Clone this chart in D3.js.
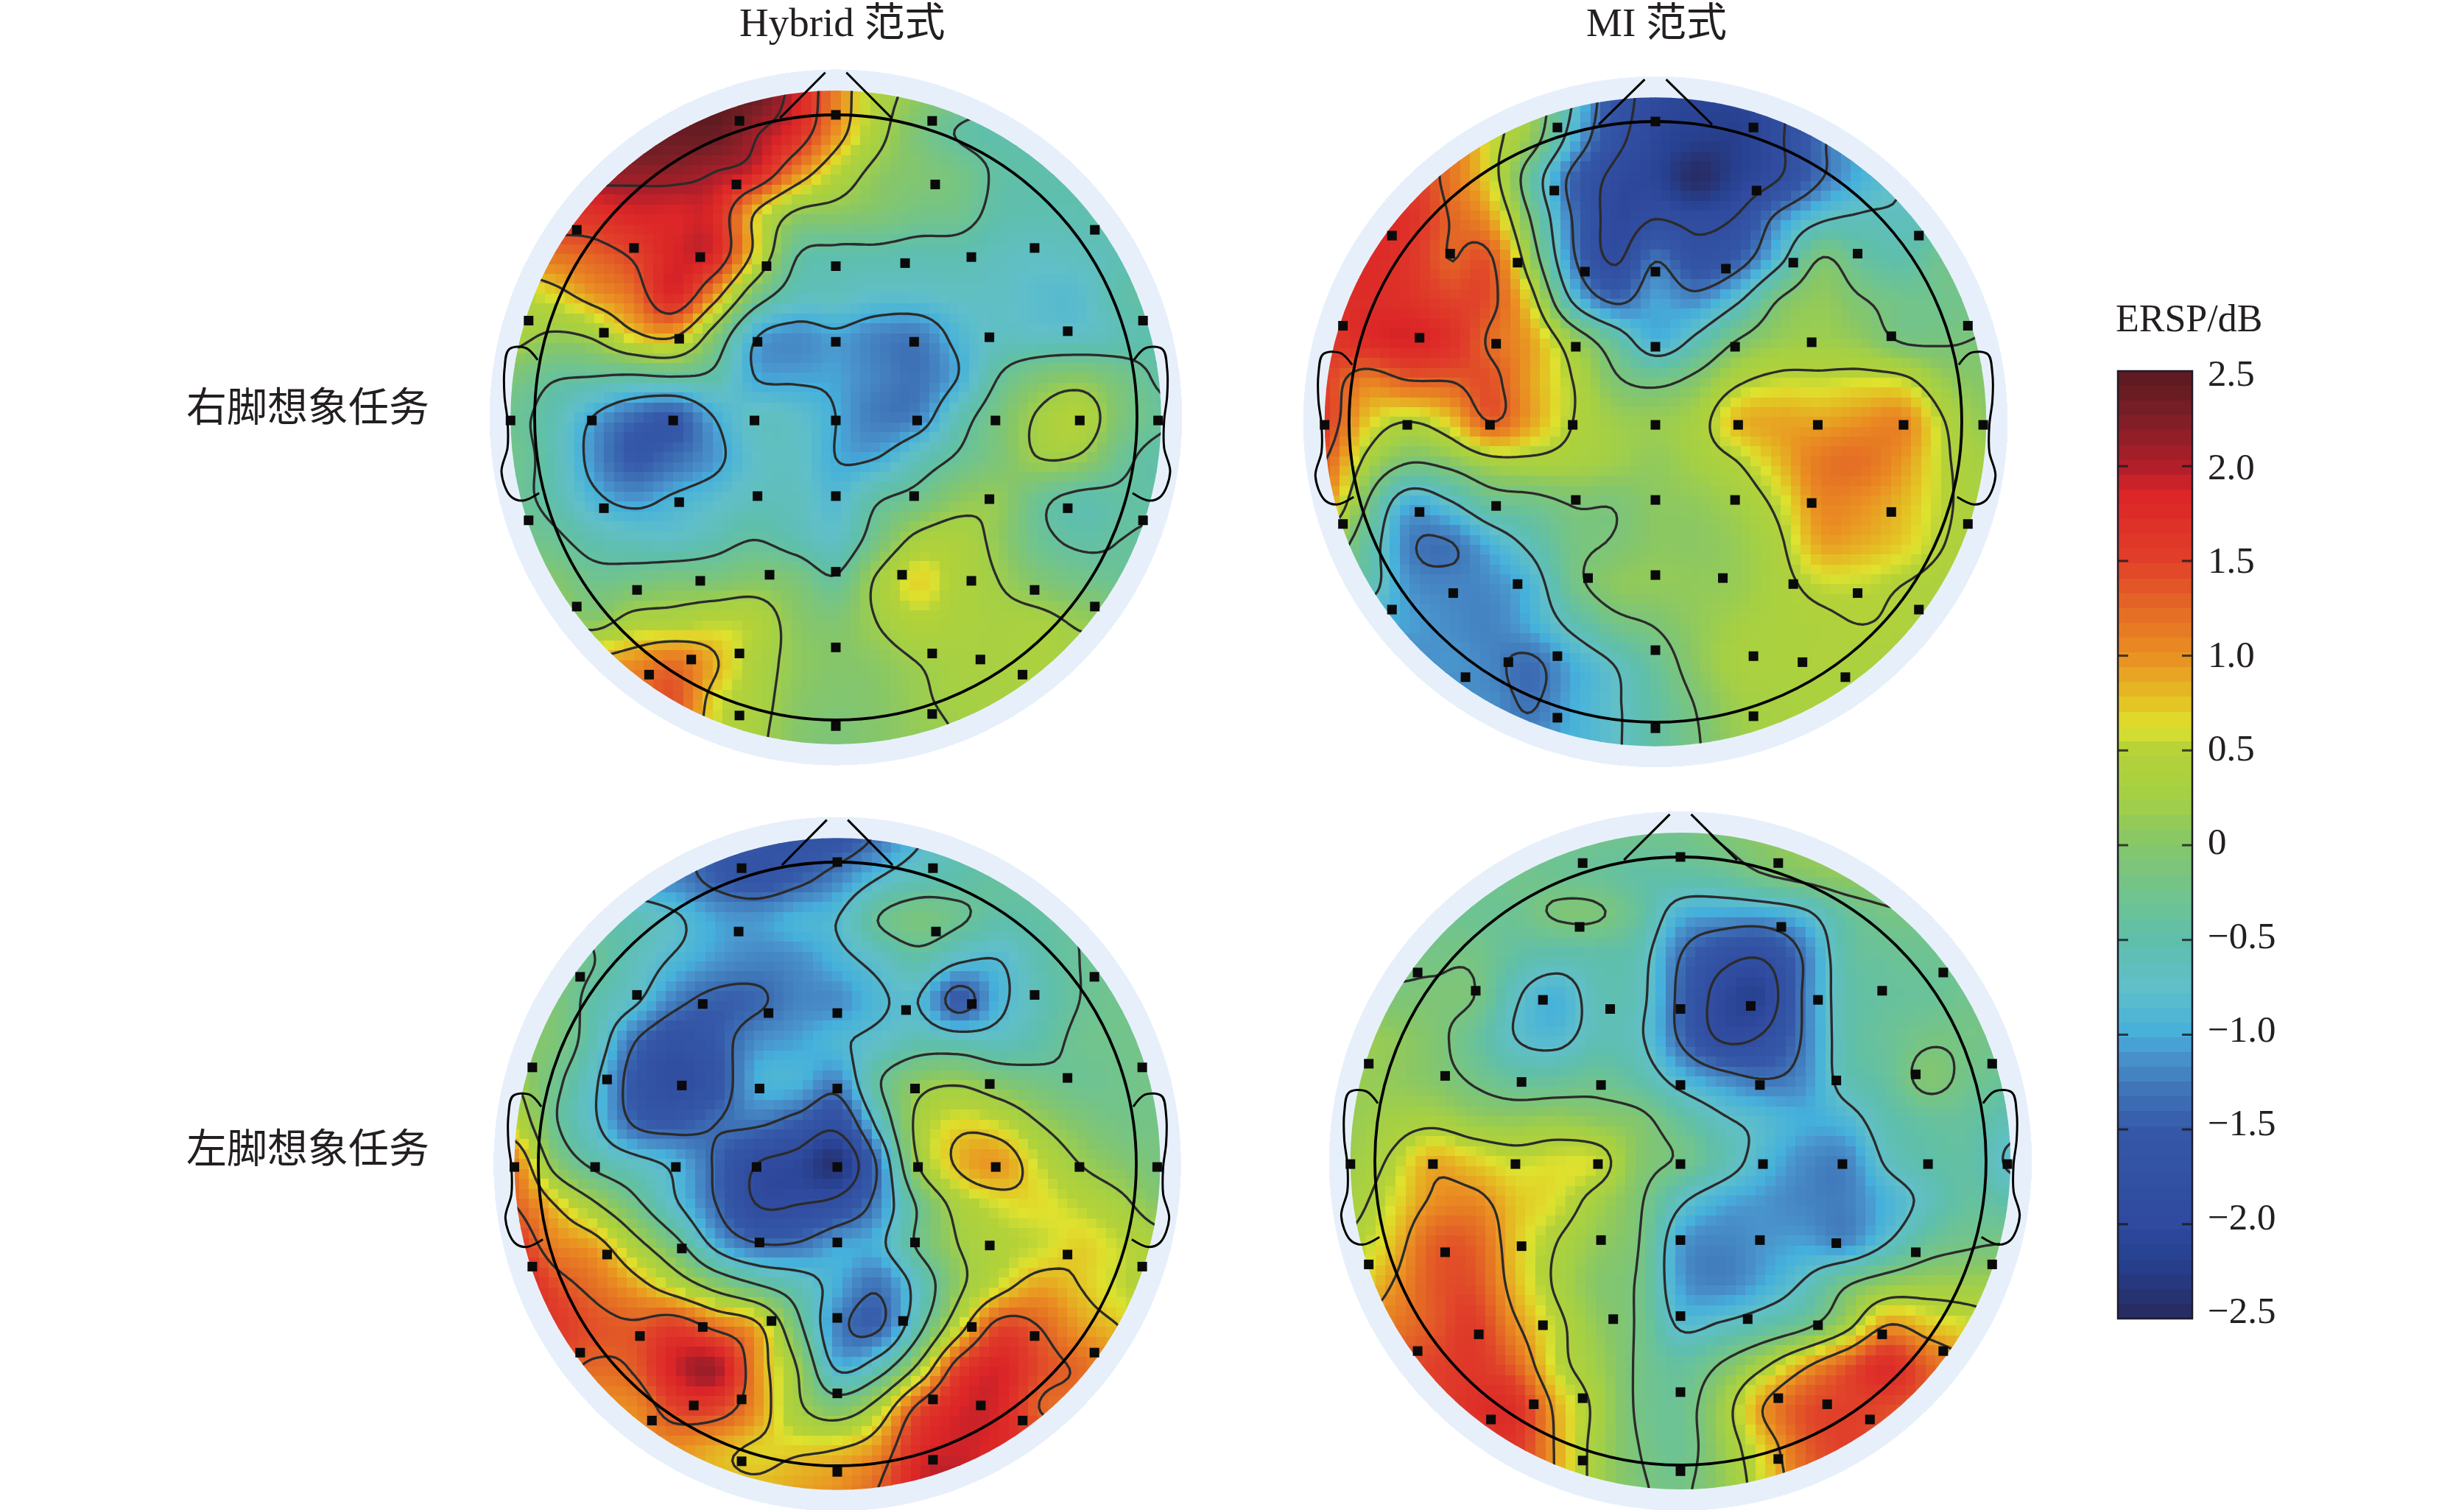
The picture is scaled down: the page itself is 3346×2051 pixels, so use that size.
<!DOCTYPE html>
<html>
<head>
<meta charset="utf-8">
<script src="https://cdn.jsdelivr.net/npm/d3@7"></script>
<style>
  html, body { margin: 0; padding: 0; background: #fff; }
  text { fill: #231f20; font-family: "Liberation Serif", "Noto Sans CJK SC", serif; }
</style>
</head>
<body>
<svg id="chart" width="3346" height="2051"></svg>
<script>
// ERSP on a 17 x 17 lattice spanning the scalp disc, top row first
const hybridRight = [
  [2.3,2.4,2.4,2.5,2.5,2.5,2.4,1.9,1.1,.4,.1,-.1,-.3,-.4,-.4,-.4,-.4],
  [2.4,2.4,2.5,2.5,2.4,2.4,2.1,1.75,1,.35,-.1,-.42,-.5,-.45,-.4,-.4,-.4],
  [2.2,2.2,2.2,2.15,2.15,2.05,1.85,1.1,.5,.1,-.05,-.2,-.45,-.5,-.5,-.45,-.4],
  [1.6,1.7,1.7,1.85,1.85,1.8,.8,.15,.05,-.05,-.2,-.25,-.5,-.55,-.55,-.5,-.45],
  [1.1,1.2,1.3,1.5,1.85,1.8,.7,-.35,-.5,-.5,-.55,-.55,-.65,-.7,-.65,-.6,-.5],
  [.5,.65,.95,1.2,1.8,1,-.1,-.6,-.65,-.75,-.75,-.7,-.7,-.8,-.8,-.5,-.45],
  [.35,.15,.25,.7,.85,0,-.95,-1.15,-1.05,-1.2,-1.25,-.9,-.7,-.7,-.7,-.6,-.5],
  [-.1,-.35,-.4,-.45,-.4,-.5,-1,-1.05,-1.05,-1.2,-1.3,-1,-.4,-.1,0,-.2,-.45],
  [-.3,-.55,-1,-1.35,-1.5,-1,-.7,-.75,-1,-1.25,-1.2,-.6,-.15,.25,.45,-.1,-.35],
  [-.25,-.55,-1.1,-1.5,-1.35,-1.1,-.75,-.7,-1,-1,-.65,-.35,-.1,.2,.15,-.3,-.5],
  [-.3,-.5,-.9,-1.1,-.95,-.8,-.65,-.65,-.85,-.45,-.25,.05,.1,-.3,-.5,-.45,-.45],
  [-.2,-.3,-.55,-.65,-.7,-.55,-.4,-.55,-.7,-.2,.3,.35,.1,-.3,-.45,-.4,-.35],
  [.1,0,-.25,-.2,-.1,-.1,0,-.1,-.35,.25,.68,.4,.2,-.05,-.2,-.3,-.3],
  [.3,.3,.05,.35,.4,.5,.45,.05,-.05,.2,.45,.35,.3,.3,.15,.1,.1],
  [.9,.9,.9,1,1.2,.85,.4,.1,0,.05,.2,.3,.3,.35,.3,.3,.3],
  [1.2,1.2,1.2,1.2,1.4,.65,.35,.05,-.05,0,.15,.25,.3,.3,.3,.3,.3],
  [1.2,1.2,1.2,1.2,1.2,.6,.3,0,-.1,0,.1,.2,.3,.3,.3,.3,.3]
];
const miRight = [
  [1.2,1.2,1.1,.9,.6,.2,-.7,-1.6,-2,-2.1,-2.1,-1.9,-1.6,-1.2,-.9,-.7,-.5],
  [1.6,1.6,1.5,1.2,.6,.1,-.9,-1.7,-2.05,-2.2,-2.2,-1.9,-1.35,-1,-.8,-.6,-.5],
  [1.8,1.8,1.6,1.2,.65,-.4,-1.4,-1.95,-2.1,-2.45,-2.15,-1.85,-1.3,-.95,-.7,-.5,-.4],
  [1.9,1.85,1.7,1.3,.95,-.15,-1.3,-2,-1.85,-1.95,-1.8,-1.15,-.75,-.65,-.65,-.5,-.35],
  [1.8,1.8,1.65,1.3,1.35,.15,-1.2,-1.9,-1.3,-1.7,-1.45,-.8,-.1,-.4,-.5,-.25,-.2],
  [1.7,1.75,1.7,1.5,1.4,.6,-.75,-1.35,-1.05,-1.15,-.75,-.1,.1,-.1,-.25,-.25,-.2],
  [1.6,1.75,1.85,1.7,1.25,.9,.2,-.4,-.95,-.6,-.1,.15,.2,.1,-.15,-.15,-.1],
  [1.5,1.1,1.28,1.3,1.4,.9,.45,-.05,-.2,0,.4,.55,.55,.6,.55,.15,0],
  [1.55,.75,.45,.7,1.3,.9,.45,.2,.15,.3,.8,.9,.9,1,1.05,.45,.1],
  [1.3,.35,-.1,0,.3,.35,.3,.2,.1,.25,.45,.8,1.15,1.2,.95,.5,.25],
  [1,-.1,-.95,-.75,-.35,-.25,-.1,-.1,.05,.1,.25,.55,1.05,1,.8,.5,.3],
  [.2,-.4,-1.2,-1.3,-.95,-.6,-.2,-.1,.05,.05,.15,.4,.9,.85,.7,.45,.3],
  [-.3,-.5,-1.1,-1.2,-1.15,-.9,-.25,.05,.1,.1,.15,.35,.55,.55,.45,.35,.3],
  [-1,-1,-1.05,-1.15,-1.2,-1,-.6,-.25,-.1,.1,.25,.35,.4,.45,.4,.35,.3],
  [-1.2,-1.2,-1.2,-1.1,-1.2,-1.35,-1,-.7,-.35,.05,.3,.35,.4,.35,.35,.35,.3],
  [-1.2,-1.2,-1.2,-1.2,-1.15,-1.3,-1,-.75,-.45,-.1,.2,.3,.35,.3,.3,.3,.3],
  [-1.2,-1.2,-1.2,-1.2,-1.2,-1.15,-.95,-.75,-.45,-.15,.15,.3,.3,.3,.3,.3,.3]
];
const hybridLeft = [
  [-.9,-.9,-1,-1.1,-1.2,-1.5,-1.6,-1.65,-1.6,-1.3,-.9,-.6,-.5,-.45,-.4,-.4,-.4],
  [-.9,-.9,-1,-1.1,-1.2,-1.45,-1.6,-1.45,-1.2,-.85,-.6,-.5,-.4,-.4,-.4,-.4,-.4],
  [-.4,-.4,-.5,-.6,-.8,-1.05,-1.1,-.95,-.85,-.35,-.15,-.3,-.5,-.45,-.35,-.3,-.3],
  [-.2,-.2,-.35,-.65,-.9,-1.1,-1.2,-1.15,-.95,-.75,-.5,-.8,-.85,-.55,-.35,-.3,-.3],
  [0,-.1,-.5,-.8,-1.25,-1.45,-1.4,-1.2,-1.15,-.9,-.85,-1.5,-.95,-.6,-.35,-.25,-.2],
  [0,-.1,-.6,-1.35,-1.7,-1.5,-1.15,-1.05,-.9,-.75,-.55,-.6,-.65,-.5,-.28,-.25,-.2],
  [.2,-.25,-.8,-1.55,-1.85,-1.6,-1,-.95,-1.2,-.4,.05,.15,-.05,-.2,-.3,-.25,-.2],
  [.5,-.3,-.8,-1.4,-1.5,-1.35,-1.3,-1.5,-1.75,-.75,.3,.65,.55,.2,-.05,-.2,-.2],
  [1.1,.05,-.45,-.7,-.95,-1.4,-1.9,-2.05,-2.35,-1.3,.2,.8,.95,.55,.2,0,-.15],
  [1.3,.75,.25,-.25,-.8,-1.35,-1.9,-1.9,-1.75,-1.2,-.3,.35,.6,.65,.5,.3,0],
  [1.6,1.1,.9,.35,-.2,-.95,-1.3,-1.3,-1.05,-.95,-.3,.2,.45,.55,.7,.55,.35],
  [1.9,1.45,1.2,.9,.5,.05,-.3,-.6,-1,-1.3,-.7,.1,.6,.9,.75,.55,.4],
  [1.9,1.6,1.4,1.35,1.55,1.2,.85,-.2,-1.2,-1.4,-.5,.55,1.45,1.3,.95,.75,.5],
  [1.4,1.4,1.25,1.35,1.9,2.05,1,.2,-.9,-.6,.3,1.5,1.85,1.45,1.25,1,.8],
  [1,1,1,1.05,1.5,1.5,1,.3,-.05,.4,1.4,1.85,1.85,1.3,1.2,1,1],
  [1,1,1,1,1,.85,.7,.7,.75,1,1.75,1.9,1.8,1.6,1.4,1.2,1],
  [1,1,1,1,1,.85,.8,.9,1,1.3,1.9,2,1.8,1.6,1.4,1.2,1]
];
const miLeft = [
  [-.25,-.25,-.25,-.25,-.25,-.25,-.25,-.25,-.25,-.1,.05,.1,.1,.1,.05,0,0],
  [-.25,-.25,-.25,-.25,-.25,-.3,-.35,-.45,-.45,-.38,-.15,0,.1,.05,0,-.05,-.1],
  [-.2,-.2,-.25,-.3,-.3,-.12,-.12,-.4,-.95,-1.05,-1.05,-.85,-.4,-.2,-.2,-.2,-.2],
  [-.2,-.2,-.2,-.2,-.45,-.55,-.5,-.6,-1.3,-1.7,-1.8,-1.25,-.5,-.35,-.3,-.25,-.2],
  [0,-.1,-.1,-.15,-.7,-.95,-.6,-.65,-1.4,-2,-2.1,-1.25,-.55,-.4,-.35,-.25,-.2],
  [.15,.1,-.05,-.35,-.75,-.85,-.6,-.7,-1.35,-1.9,-1.8,-1.25,-.55,-.35,-.2,-.2,-.25],
  [.15,.1,0,-.2,-.4,-.4,-.3,-.5,-.9,-1.15,-1.3,-1.15,-.6,-.4,-.05,-.25,-.35],
  [.15,.25,.3,.15,.1,.15,.05,-.05,-.4,-.7,-.85,-1,-.9,-.55,-.4,-.4,-.6],
  [.2,.45,.85,.7,.55,.6,.55,0,-.2,-.55,-.9,-1.15,-1.2,-.7,-.5,-.45,-.8],
  [.3,.6,1,1.05,.75,.6,.25,-.1,-.7,-1,-1.1,-1.2,-1.22,-.95,-.65,-.4,-.5],
  [.45,.75,1.3,1.3,.75,.4,.1,-.15,-1.05,-1.2,-1.1,-1.05,-1.15,-.75,-.35,-.2,-.15],
  [.6,.95,1.35,1.4,.8,.35,0,-.2,-1.05,-1.2,-1,-.7,-.2,.1,.2,.2,.2],
  [1,1.15,1.35,1.55,1,.5,.1,-.2,-.8,-.7,-.5,-.25,.25,.95,.75,.6,.4],
  [1.3,1.4,1.5,1.6,1.3,.55,.2,-.2,-.4,-.1,.35,.9,1.35,1.75,1.3,1,.8],
  [1.5,1.5,1.5,1.7,1.7,.85,.3,-.2,-.3,.2,.95,1.4,1.5,1.45,1.3,1.1,1],
  [1.6,1.6,1.6,1.6,1.6,.9,.25,-.15,-.3,.15,.7,1.3,1.5,1.4,1.3,1.2,1],
  [1.6,1.6,1.6,1.6,1.6,.9,.25,-.1,-.2,.1,.6,1.2,1.5,1.4,1.3,1.2,1]
];

// contour levels of each map
const levelsHybridRight = [-1.0, -0.4, 0.2, 0.8, 1.45, 2.05];
const levelsMiRight = [-1.85, -1.28, -0.7, -0.12, 0.45, 1.3];
const levelsHybridLeft = [-1.9, -1.35, -0.85, -0.35, 0.2, 0.75, 1.3];
const levelsMiLeft = [-1.85, -1.3, -0.75, -0.15, 0.4, 0.95];

// electrode sites, head radius = 100
const elecX = [-32,0,32, -33,33,
  -86,-67,-45,-23,0,23,45,66,86,
  -102,-77,-52,-26,0,26,51,77,102,
  -108,-81,-54,-27,0,27,53,81,107,
  -102,-77,-52,-26,0,26,51,77,102,
  -86,-66,-45,-22,0,22,45,66,86,
  -62,-48,-32,0,32,48,62,
  -32,0,32];
const elecY = [-98,-100,-98, -77,-77,
  -62,-56,-53,-50,-50,-51,-53,-56,-62,
  -32,-28,-26,-25,-25,-25,-26.5,-28.5,-32,
  1,1,1,1,1,1,1,1,1,
  34,30,28,26,26,26,27,30,34,
  62.5,57,54,52,51,52,54,57,62.5,
  85,80,78,76,78,80,85,
  98.5,102,98];

// nose and left ear outline in the same units (right ear is mirrored)
const noseX = [-18.5,-3.5], noseY = [-99,-114];
const earX = [-99,-103,-108.5,-110,-110,-109,-109,-111,-108,-104,-98.5];
const earY = [-19,-23,-22.5,-16,-7,1,10,18,26,27.5,25];

const barTicks = [2.5,2,1.5,1,.5,0,-.5,-1,-1.5,-2,-2.5];
const colorValues = [-2.5,-2.2,-2,-1.5,-1.3,-1.1,-1,-.75,-.5,-.25,0,.25,.5,.62,.75,1,1.25,1.5,1.85,2,2.25,2.5];
const colorList = ["#27295e","#27408f","#2f4a9e","#3558a8","#3f74b8","#4a95cd","#45b0dc","#60bfc8","#5fbfaa","#72c48c","#85c66a","#a5d044","#b4d238","#dfe22e","#e3c424","#ea8f22","#e46a25","#e0402a","#dc2527","#b01f2a","#7d1f26","#5a1a20"];

const panels = [
  {grid: hybridRight, levels: levelsHybridRight, cx: 1135, cy: 567, rx: 409, ry: 411},
  {grid: miRight, levels: levelsMiRight, cx: 2248, cy: 573, rx: 416, ry: 408},
  {grid: hybridLeft, levels: levelsHybridLeft, cx: 1137, cy: 1581, rx: 406, ry: 410},
  {grid: miLeft, levels: levelsMiLeft, cx: 2282, cy: 1577, rx: 415, ry: 413}
];

const DISC = 108, RING = 115, CELLS = 33; // disc and ring radius in head units, half width of raster
const color = d3.scaleLinear().domain(colorValues).range(colorList).clamp(true);
const svg = d3.select("#chart");

// Catmull-Rom lookup of the lattice, u and v in head units
function sample(grid, u, v) {
  const n = grid.length - 1;
  const gx = (u + DISC) / (2 * DISC) * n, gy = (v + DISC) / (2 * DISC) * n;
  const ix = Math.max(0, Math.min(n - 1, Math.floor(gx))), iy = Math.max(0, Math.min(n - 1, Math.floor(gy)));
  const at = (r, c) => grid[Math.max(0, Math.min(n, r))][Math.max(0, Math.min(n, c))];
  const cub = (a, b, c, d, t) => b + .5 * t * (c - a + t * (2 * a - 5 * b + 4 * c - d + t * (3 * (b - c) + d - a)));
  const tx = Math.max(0, Math.min(1, gx - ix)), ty = Math.max(0, Math.min(1, gy - iy));
  const rows = [-1, 0, 1, 2].map(k => cub(at(iy + k, ix - 1), at(iy + k, ix), at(iy + k, ix + 1), at(iy + k, ix + 2), tx));
  return cub(rows[0], rows[1], rows[2], rows[3], ty);
}

panels.forEach((p, idx) => {
  const x = d3.scaleLinear().domain([-100, 100]).range([p.cx - p.rx, p.cx + p.rx]);
  const y = d3.scaleLinear().domain([-100, 100]).range([p.cy - p.ry, p.cy + p.ry]);
  const g = svg.append("g").attr("class", "panel");

  // pale ring behind the map
  g.append("ellipse").attr("cx", x(0)).attr("cy", y(0))
    .attr("rx", x(RING) - x(0)).attr("ry", y(RING) - y(0))
    .attr("fill", "#e7f0fa").attr("shape-rendering", "crispEdges");

  g.append("clipPath").attr("id", "disc" + idx)
    .append("ellipse").attr("cx", x(0)).attr("cy", y(0))
    .attr("rx", x(DISC) - x(0)).attr("ry", y(DISC) - y(0));

  // raster cells
  const step = DISC / CELLS;
  const cells = [];
  for (let j = -CELLS - 1; j <= CELLS + 1; j++) {
    for (let i = -CELLS - 1; i <= CELLS + 1; i++) {
      const u = i * step, v = j * step;
      if (Math.hypot(u, v) <= DISC + 2 * step) cells.push({u, v, fill: color(sample(p.grid, u, v))});
    }
  }
  g.append("g").attr("clip-path", `url(#disc${idx})`).attr("shape-rendering", "crispEdges")
    .selectAll("rect").data(cells).enter().append("rect")
    .attr("x", d => x(d.u - step / 2))
    .attr("y", d => y(d.v - step / 2))
    .attr("width", x(step) - x(0) + .6)
    .attr("height", y(step) - y(0) + .6)
    .attr("fill", d => d.fill);

  // contours on a finer sampling of the same lattice
  const n = 135;
  const values = [];
  for (let j = 0; j < n; j++) {
    for (let i = 0; i < n; i++) {
      values.push(sample(p.grid, -DISC + 2 * DISC * i / (n - 1), -DISC + 2 * DISC * j / (n - 1)));
    }
  }
  const toUnit = d3.scaleLinear().domain([0, n - 1]).range([-DISC, DISC]);
  const path = d3.geoPath(d3.geoTransform({
    point(a, b) { this.stream.point(x(toUnit(a - .5)), y(toUnit(b - .5))); }
  }));
  g.append("g").attr("clip-path", `url(#disc${idx})`)
    .selectAll("path").data(d3.contours().size([n, n]).thresholds(p.levels)(values)).enter().append("path")
    .attr("d", path)
    .attr("fill", "none")
    .attr("stroke", "#2b2b2b")
    .attr("stroke-width", 3.3);

  // head, nose, ears
  g.append("ellipse").attr("cx", x(0)).attr("cy", y(0))
    .attr("rx", x(100) - x(0)).attr("ry", y(100) - y(0))
    .attr("fill", "none").attr("stroke", "#000").attr("stroke-width", 3.8);
  const outline = d3.line().x(d => x(d[0])).y(d => y(d[1]));
  [1, -1].forEach(side => {
    g.append("path")
      .attr("d", outline(d3.zip(noseX.map(d => d * side), noseY)))
      .attr("fill", "none").attr("stroke", "#000").attr("stroke-width", 3);
    g.append("path")
      .attr("d", outline.curve(d3.curveCatmullRom)(d3.zip(earX.map(d => d * side), earY)))
      .attr("fill", "none").attr("stroke", "#000").attr("stroke-width", 3);
    outline.curve(d3.curveLinear);
  });

  // electrodes
  g.append("g").selectAll("rect").data(elecX).enter().append("rect")
    .attr("x", (d, i) => x(d) - 6.5)
    .attr("y", (d, i) => y(elecY[i]) - 6.5)
    .attr("width", 13).attr("height", 13)
    .attr("fill", "#0a0a0a");
});

// colour bar
const barLeft = 2876, barRight = 2977;
const barY = d3.scaleLinear().domain([2.5, -2.5]).range([504, 1791]);
const labelY = d3.scaleLinear().domain([2.5, -2.5]).range([507, 1780]);
const bands = d3.range(2.5, -2.5, -5 / 64);
svg.append("g").attr("shape-rendering", "crispEdges")
  .selectAll("rect").data(bands).enter().append("rect")
  .attr("x", barLeft).attr("width", barRight - barLeft)
  .attr("y", d => barY(d))
  .attr("height", barY(0) - barY(5 / 64) + 1)
  .attr("fill", d => color(d - 2.5 / 64));
svg.append("rect").attr("x", barLeft).attr("y", 504)
  .attr("width", barRight - barLeft).attr("height", 1791 - 504)
  .attr("fill", "none").attr("stroke", "#1c1c2a").attr("stroke-width", 2.5);

const tickAxis = s => s.tickValues(barTicks.slice(1, -1)).tickFormat("").tickSizeOuter(0);
const rightTicks = svg.append("g").attr("transform", `translate(${barRight},0)`).call(tickAxis(d3.axisRight(barY).tickSizeInner(-14)));
const leftTicks = svg.append("g").attr("transform", `translate(${barLeft},0)`).call(tickAxis(d3.axisLeft(barY).tickSizeInner(-14)));
[rightTicks, leftTicks].forEach(a => {
  a.select(".domain").remove();
  a.selectAll("line").attr("stroke", "#1a1a1a").attr("stroke-opacity", .8).attr("stroke-width", 3);
});

const barLabels = svg.append("g").attr("transform", "translate(2998,0)")
  .call(d3.axisRight(labelY).tickValues(barTicks).tickSize(0).tickPadding(0)
    .tickFormat(d => d === 0 ? "0" : d3.format(".1f")(d)));
barLabels.select(".domain").remove();
barLabels.selectAll("text")
  .attr("font-family", '"Liberation Serif", serif')
  .attr("font-size", 51).attr("text-anchor", "start");

// titles
const labels = [
  {s: "Hybrid 范式", x: 1004, y: 49},
  {s: "MI 范式", x: 2154, y: 49},
  {s: "右脚想象任务", x: 253, y: 572},
  {s: "左脚想象任务", x: 253, y: 1579},
  {s: "ERSP/dB", x: 2873, y: 450}
];
svg.selectAll("text.label").data(labels).enter().append("text")
  .attr("class", "label")
  .attr("x", d => d.x).attr("y", d => d.y)
  .attr("font-size", d => d.s === "ERSP/dB" ? 52 : 55)
  .text(d => d.s);
</script>
</body>
</html>
